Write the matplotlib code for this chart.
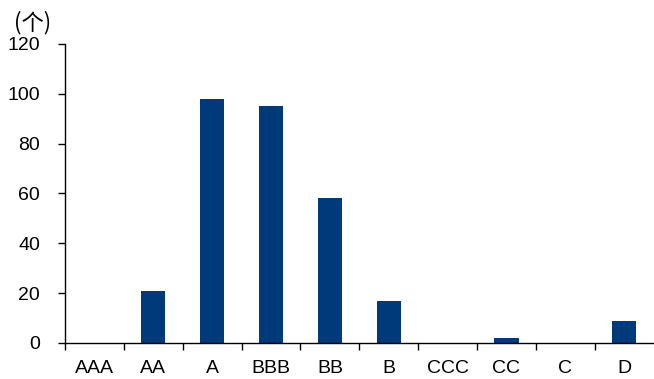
import matplotlib
matplotlib.use('Agg')
import matplotlib.pyplot as plt
import numpy as np

ratings = ['AAA', 'AA', 'A', 'BBB', 'BB', 'B', 'CCC', 'CC', 'C', 'D']
counts = [0, 21, 98, 95, 58, 17, 0, 2, 0, 9]

plt.rcParams['font.family'] = ['Liberation Sans', 'Noto Sans CJK SC', 'DejaVu Sans']
plt.rcParams['font.size'] = 14

fig = plt.figure(figsize=(6.54, 3.79), dpi=100)
ax = fig.add_axes([0.0994, 0.095, 0.9, 0.789])

x = np.arange(len(ratings))
ax.bar(x, counts, width=0.41, color='#003a7a')

ax.set_xlim(-0.5, len(ratings) - 0.5)
ax.set_ylim(0, 120)
ax.set_yticks(np.arange(0, 121, 20))

ax.set_xticks(x)
ax.set_xticklabels(ratings)
ax.set_xticks(np.arange(-0.5, len(ratings) - 0.5, 1), minor=True)
ax.tick_params(axis='x', which='major', length=0, pad=12)
ax.tick_params(axis='x', which='minor', length=5, width=1, direction='out')
ax.tick_params(axis='y', length=5, width=1, direction='out', pad=13)

for side in ['top', 'right']:
    ax.spines[side].set_visible(False)
ax.spines['left'].set_linewidth(1)
ax.spines['bottom'].set_linewidth(1)

fig.text(0.022, 0.94, '(个)', fontsize=16, va='center', ha='left',
         family=['Noto Sans CJK SC', 'DejaVu Sans'])

fig.savefig('out.png', dpi=100)
